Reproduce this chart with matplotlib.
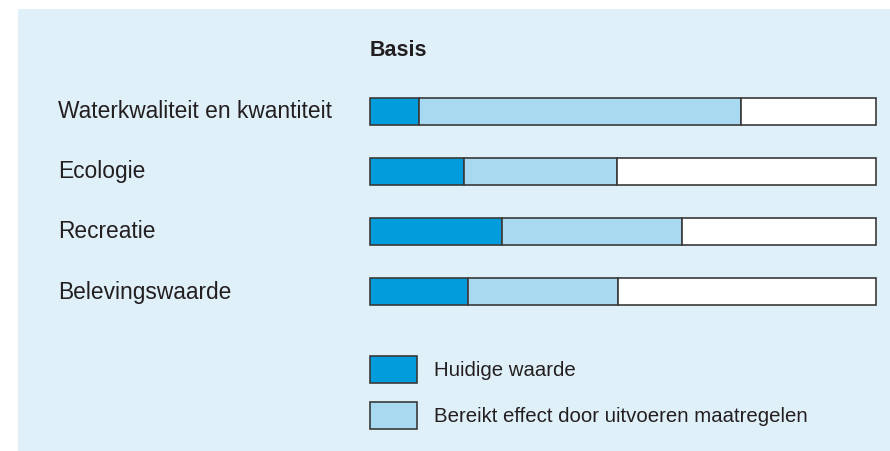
import matplotlib.pyplot as plt
from matplotlib.patches import Rectangle
from matplotlib.transforms import blended_transform_factory

# Categories and values (fractions of the full bar)
categories = ['Waterkwaliteit en kwantiteit', 'Ecologie', 'Recreatie', 'Belevingswaarde']
huidige = [0.097, 0.185, 0.260, 0.193]
bereikt_tot = [0.733, 0.489, 0.617, 0.491]
legend_labels = ['Huidige waarde', 'Bereikt effect door uitvoeren maatregelen']
title = 'Basis'

dark_blue = '#009CDB'
light_blue = '#A9D8F1'
panel_bg = '#E0F0F9'
edge = '#3a3a3a'
text_col = '#231F20'

plt.rcParams['font.family'] = ['Liberation Sans', 'DejaVu Sans']

W, H = 890, 452
fig = plt.figure(figsize=(W / 100, H / 100), dpi=100)

# Light blue panel behind everything
fig.patches.append(Rectangle((18 / W, 0), 1 - 18 / W, 1 - 10 / H,
                             transform=fig.transFigure, facecolor=panel_bg,
                             edgecolor='none', zorder=-5))

# Bar axes
ax = fig.add_axes([370 / W, (H - 322) / H, 506 / W, 240 / H])
ax.set_zorder(1)
ax.set_facecolor('none')
ax.set_xlim(0, 1)
ax.set_ylim(len(categories) - 0.5, -0.5)
ax.axis('off')

y = list(range(len(categories)))
bereikt = [t - h for t, h in zip(bereikt_tot, huidige)]
rest = [1 - t for t in bereikt_tot]
bh = 0.45
style = dict(height=bh, edgecolor=edge, linewidth=1.2, clip_on=False)
ax.barh(y, huidige, color=dark_blue, **style)
ax.barh(y, bereikt, left=huidige, color=light_blue, **style)
ax.barh(y, rest, left=bereikt_tot, color='white', **style)

# Category labels on the left
trans = blended_transform_factory(fig.transFigure, ax.transData)
for yi, cat in zip(y, categories):
    ax.text(58 / W, yi, cat, transform=trans, ha='left', va='center',
            fontsize=16.4, color=text_col)

fig.text(370 / W, 1 - 51 / H, title, ha='left', va='center', fontsize=15.5,
         fontweight='bold', color=text_col)

# Legend
for i, (lab, col) in enumerate(zip(legend_labels, [dark_blue, light_blue])):
    top = 357 + i * 46
    fig.patches.append(Rectangle((370 / W, 1 - (top + 27) / H), 47 / W, 27 / H,
                                 transform=fig.transFigure, facecolor=col,
                                 edgecolor=edge, linewidth=1.2, zorder=2))
    fig.text(434 / W, 1 - (top + 14) / H, lab, ha='left', va='center',
             fontsize=14.7, color=text_col)

fig.savefig('out.png', dpi=100)
